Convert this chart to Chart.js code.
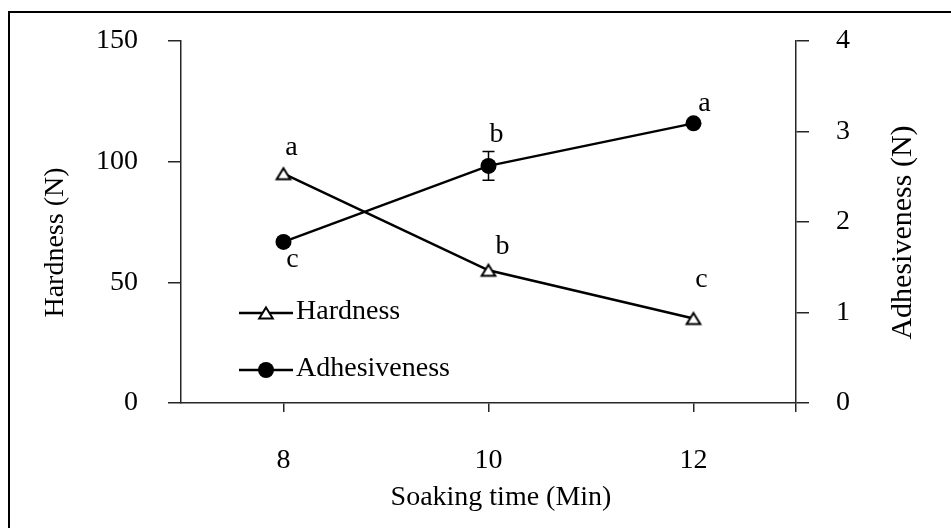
<!DOCTYPE html>
<html>
<head>
<meta charset="utf-8">
<style>
  html, body { margin: 0; padding: 0; background: #fff; }
  canvas { display: block; }
</style>
<script src="https://cdn.jsdelivr.net/npm/chart.js@4"></script>
</head>
<body>
<canvas id="chart" width="951" height="528"></canvas>
<script>
// ---- data ----
const soakingTimes = [8, 10, 12];
const hardnessValues = [95, 55, 35];
const adhesivenessValues = [1.78, 2.62, 3.09];
const adhesivenessErrors = [0, 0.16, 0];
const hardnessLetters = ['a', 'b', 'c'];
const adhesivenessLetters = ['c', 'b', 'a'];
const timeTickValues = [8, 10, 12];
const hardnessTickValues = [0, 50, 100, 150];
const adhesivenessTickValues = [0, 1, 2, 3, 4];
const seriesNames = ['Hardness', 'Adhesiveness'];
const xTitle = 'Soaking time (Min)';
const leftTitle = 'Hardness (N)';
const rightTitle = 'Adhesiveness (N)';

// ---- style ----
const SERIF = "'Liberation Serif', 'Times New Roman', serif";
const INK = '#000';
const AXIS = '#262626';
// pixel nudges of the significance letters from their points
const hardnessLetterOffsets = [[8, -26], [14, -24], [8, -39]];
const adhesivenessLetterOffsets = [[9, 18], [8, -31], [11, -20]];

// open triangle marker, centred on its bounding box
const triangleMarker = (() => {
  const c = document.createElement('canvas');
  c.width = 20; c.height = 18;
  const g = c.getContext('2d');
  g.beginPath();
  g.moveTo(10, 3.5);
  g.lineTo(16.8, 14.5);
  g.lineTo(3.2, 14.5);
  g.closePath();
  g.fillStyle = '#fff';
  g.fill();
  g.lineWidth = 2;
  g.strokeStyle = INK;
  g.stroke();
  return c;
})();

const toPoints = (ys) => soakingTimes.map((t, i) => ({ x: t, y: ys[i] }));

// fixed axis width; label overhang is already covered by the layout padding
function fixWidth(w) {
  return (scale) => {
    scale.width = w;
    scale.paddingTop = 0;
    scale.paddingBottom = 0;
  };
}

const decorations = {
  id: 'decorations',
  beforeDatasetsDraw(chart) {
    const { ctx, scales } = chart;
    const xs = scales.x, yr = scales.yAdh;
    ctx.save();
    ctx.strokeStyle = INK;
    ctx.lineWidth = 1.5;
    adhesivenessValues.forEach((v, i) => {
      const e = adhesivenessErrors[i];
      if (!e) return;
      const x = xs.getPixelForValue(soakingTimes[i]);
      const yTop = yr.getPixelForValue(v + e);
      const yBot = yr.getPixelForValue(v - e);
      ctx.beginPath();
      ctx.moveTo(x, yTop); ctx.lineTo(x, yBot);
      ctx.moveTo(x - 6, yTop); ctx.lineTo(x + 6, yTop);
      ctx.moveTo(x - 6, yBot); ctx.lineTo(x + 6, yBot);
      ctx.stroke();
    });
    ctx.restore();
  },
  afterDraw(chart) {
    const { ctx, scales, chartArea } = chart;
    const xs = scales.x, yl = scales.yHard, yr = scales.yAdh;
    ctx.save();

    // frame (left and top edges)
    ctx.strokeStyle = INK;
    ctx.lineWidth = 2;
    ctx.beginPath();
    ctx.moveTo(9, 528);
    ctx.lineTo(9, 12);
    ctx.lineTo(951, 12);
    ctx.stroke();

    // axis titles
    ctx.fillStyle = INK;
    ctx.textBaseline = 'middle';
    ctx.textAlign = 'center';
    ctx.font = '28px ' + SERIF;
    ctx.fillText(xTitle, 501, 498);

    ctx.save();
    ctx.translate(55.5, 242.5);
    ctx.rotate(-Math.PI / 2);
    ctx.fillText(leftTitle, 0, 0);
    ctx.restore();

    ctx.save();
    ctx.font = '30px ' + SERIF;
    ctx.translate(903, 232.5);
    ctx.rotate(-Math.PI / 2);
    ctx.fillText(rightTitle, 0, 0);
    ctx.restore();

    // significance letters
    ctx.font = '28px ' + SERIF;
    hardnessLetters.forEach((s, i) => {
      const x = xs.getPixelForValue(soakingTimes[i]) + hardnessLetterOffsets[i][0];
      const y = yl.getPixelForValue(hardnessValues[i]) + hardnessLetterOffsets[i][1];
      ctx.fillText(s, x, y);
    });
    adhesivenessLetters.forEach((s, i) => {
      const x = xs.getPixelForValue(soakingTimes[i]) + adhesivenessLetterOffsets[i][0];
      const y = yr.getPixelForValue(adhesivenessValues[i]) + adhesivenessLetterOffsets[i][1];
      ctx.fillText(s, x, y);
    });

    // legend inside the plot
    const lx0 = chartArea.left + 58, lx1 = chartArea.left + 112, mx = chartArea.left + 85;
    const rows = [chartArea.top + 272, chartArea.top + 329];
    chart.data.datasets.forEach((ds, i) => {
      const y = rows[i];
      ctx.strokeStyle = INK;
      ctx.lineWidth = 2.5;
      ctx.beginPath();
      ctx.moveTo(lx0, y); ctx.lineTo(lx1, y);
      ctx.stroke();
      if (ds.pointStyle === 'circle') {
        ctx.fillStyle = INK;
        ctx.beginPath();
        ctx.arc(mx, y, ds.pointRadius, 0, Math.PI * 2);
        ctx.fill();
      } else {
        ctx.drawImage(ds.pointStyle, mx - ds.pointStyle.width / 2, y - ds.pointStyle.height / 2);
      }
      ctx.fillStyle = INK;
      ctx.textAlign = 'left';
      ctx.fillText(ds.label, lx1 + 3, y - 1);
    });

    ctx.restore();
  }
};

const tickFont = { family: SERIF, size: 28 };

new Chart(document.getElementById('chart'), {
  type: 'line',
  data: {
    datasets: [
      {
        label: seriesNames[0],
        data: toPoints(hardnessValues),
        yAxisID: 'yHard',
        borderColor: INK,
        borderWidth: 2.5,
        pointStyle: triangleMarker,
        pointRadius: 8,
        pointBackgroundColor: '#fff',
        pointBorderColor: INK,
        tension: 0
      },
      {
        label: seriesNames[1],
        data: toPoints(adhesivenessValues),
        yAxisID: 'yAdh',
        borderColor: INK,
        borderWidth: 2.5,
        pointStyle: 'circle',
        pointRadius: 8,
        pointBackgroundColor: INK,
        pointBorderWidth: 0,
        tension: 0
      }
    ]
  },
  options: {
    responsive: false,
    animation: false,
    devicePixelRatio: 1,
    layout: { padding: { top: 41, left: 0, right: 0, bottom: 0 } },
    plugins: {
      legend: { display: false },
      tooltip: { enabled: false }
    },
    scales: {
      x: {
        type: 'linear',
        position: 'bottom',
        min: 7,
        max: 13,
        afterBuildTicks: (s) => { s.ticks = [...timeTickValues, 13].map(v => ({ value: v })); },
        afterFit: (s) => { s.height = 125; s.paddingLeft = 0; s.paddingRight = 0; },
        ticks: {
          font: tickFont,
          color: INK,
          padding: 32,
          maxRotation: 0,
          autoSkip: false,
          callback: (v) => timeTickValues.includes(v) ? String(v) : ''
        },
        grid: { drawOnChartArea: false, drawTicks: true, tickLength: 9, color: AXIS, lineWidth: 1.5 },
        border: { display: true, color: AXIS, width: 1.5 }
      },
      yHard: {
        type: 'linear',
        position: 'left',
        min: 0,
        max: 150,
        afterBuildTicks: (s) => { s.ticks = hardnessTickValues.map(v => ({ value: v })); },
        afterFit: fixWidth(181),
        ticks: { font: tickFont, color: INK, padding: 30 },
        grid: { drawOnChartArea: false, drawTicks: true, tickLength: 13, color: AXIS, lineWidth: 1.5 },
        border: { display: true, color: AXIS, width: 1.5 }
      },
      yAdh: {
        type: 'linear',
        position: 'right',
        min: 0,
        max: 4,
        afterBuildTicks: (s) => { s.ticks = adhesivenessTickValues.map(v => ({ value: v })); },
        afterFit: fixWidth(155),
        ticks: { font: tickFont, color: INK, padding: 27 },
        grid: { drawOnChartArea: false, drawTicks: true, tickLength: 13, color: AXIS, lineWidth: 1.5 },
        border: { display: true, color: AXIS, width: 1.5 }
      }
    }
  },
  plugins: [decorations]
});
</script>
</body>
</html>
